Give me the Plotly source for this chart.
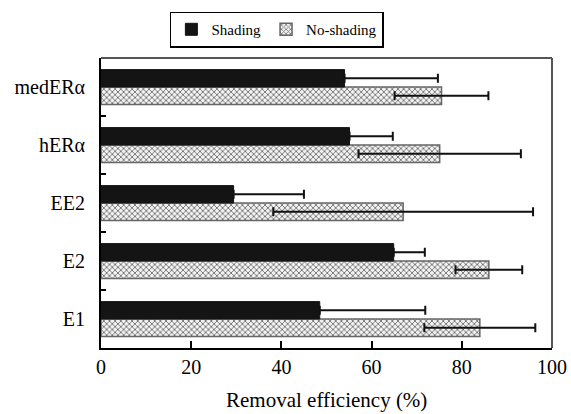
import plotly.graph_objects as go

categories = ["E1", "E2", "EE2", "hERα", "medERα"]
shading = [48.5, 64.9, 29.4, 55.1, 54.0]
shading_err = [23.4, 6.9, 15.6, 9.6, 20.7]
noshading = [84.0, 86.0, 67.0, 75.1, 75.5]
noshading_err = [12.3, 7.4, 28.8, 18.0, 10.4]
x_ticks = [0, 20, 40, 60, 80, 100]
x_title = "Removal efficiency (%)"

FONT = "Liberation Serif, DejaVu Serif, serif"

fig = go.Figure()
fig.add_trace(go.Bar(
    y=categories, x=noshading, orientation="h", name="No-shading",
    marker=dict(color="white", line=dict(color="#666666", width=1.5),
                pattern=dict(shape="x", size=4, fgcolor="#707070", bgcolor="#f2f2f2", solidity=0.4)),
    error_x=dict(type="data", array=noshading_err, color="#111111", thickness=2, width=4.5),
    legendrank=2,
))
fig.add_trace(go.Bar(
    y=categories, x=shading, orientation="h", name="Shading",
    marker=dict(color="#141414", line=dict(color="#141414", width=1)),
    error_x=dict(type="data", symmetric=False, array=shading_err,
                 arrayminus=[0] * len(shading_err), color="#111111", thickness=2, width=4.5),
    legendrank=1,
))

fig.update_layout(
    template="none",
    width=571, height=414,
    margin=dict(l=101, r=19, t=45, b=66),
    paper_bgcolor="white", plot_bgcolor="white",
    barmode="group", bargap=0.4, bargroupgap=0,
    font=dict(family=FONT, color="black", size=20),
    showlegend=True,
    legend=dict(orientation="h", x=0.39, y=1.036, xanchor="center", yanchor="bottom",
                bordercolor="black", borderwidth=1.5, font=dict(family=FONT, size=15),
                itemwidth=30, tracegroupgap=0, bgcolor="white"),
    xaxis=dict(range=[0, 100], tickvals=x_ticks, ticks="inside", ticklen=7, tickwidth=2,
               tickcolor="black", showline=True, linecolor="black", linewidth=2,
               showgrid=False, zeroline=False, tickfont=dict(family=FONT, size=20)),
    yaxis=dict(type="category", tickson="boundaries", ticks="inside", ticklen=5, tickwidth=2,
               tickcolor="black", showline=True, linecolor="black", linewidth=2,
               showgrid=False, ticklabelstandoff=10, tickfont=dict(family=FONT, size=20)),
    annotations=[dict(text=x_title, xref="paper", yref="paper", x=0.5, y=0,
                      xanchor="center", yanchor="middle", yshift=-52, showarrow=False,
                      font=dict(family=FONT, size=21, color="black"))],
    shapes=[
        dict(type="line", xref="paper", yref="paper", x0=0, x1=1, y0=1, y1=1,
             line=dict(color="#555555", width=2)),
        dict(type="line", xref="paper", yref="paper", x0=1, x1=1, y0=0, y1=1,
             line=dict(color="#555555", width=2)),
    ],
)

fig.write_html("out.html")
